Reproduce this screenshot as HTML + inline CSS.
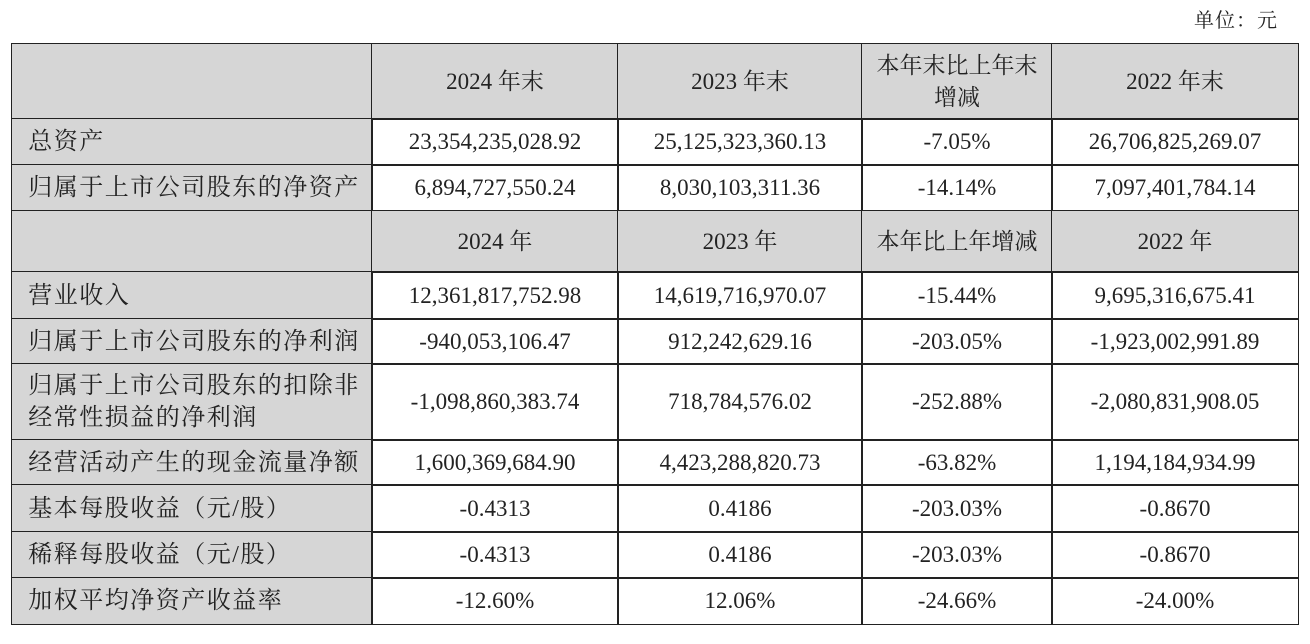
<!DOCTYPE html>
<html><head><meta charset="utf-8"><style>
body{margin:0;width:1310px;height:644px;background:#fff;position:relative;overflow:hidden;font-family:"Liberation Serif","Noto Serif CJK SC",serif;color:#222}
.c{position:absolute;box-sizing:border-box;border:1.5px solid #222;display:flex;align-items:center;justify-content:center;text-align:center;font-size:23px;line-height:32px;margin:-0.75px 0 0 -0.75px}
.g{background:#d6d6d6}
.l{justify-content:flex-start;text-align:left;padding-left:16px;font-size:24px;letter-spacing:1.5px}
#unit{position:absolute;left:1194px;top:4px;font-size:20px;letter-spacing:1px}
</style></head><body>
<div id="unit">单位：元</div>
<div id="t"></div>
<script>
const xs=[12,372,618,862,1052,1298];
const ys=[44,119,165,211,272,319,364,440,485,532,578,624];
const rows=[
 ["", "2024 年末","2023 年末","本年末比上年末<br>增减","2022 年末","h"],
 ["总资产","23,354,235,028.92","25,125,323,360.13","-7.05%","26,706,825,269.07"],
 ["归属于上市公司股东的净资产","6,894,727,550.24","8,030,103,311.36","-14.14%","7,097,401,784.14"],
 ["","2024 年","2023 年","本年比上年增减","2022 年","h"],
 ["营业收入","12,361,817,752.98","14,619,716,970.07","-15.44%","9,695,316,675.41"],
 ["归属于上市公司股东的净利润","-940,053,106.47","912,242,629.16","-203.05%","-1,923,002,991.89"],
 ["归属于上市公司股东的扣除非<br>经常性损益的净利润","-1,098,860,383.74","718,784,576.02","-252.88%","-2,080,831,908.05"],
 ["经营活动产生的现金流量净额","1,600,369,684.90","4,423,288,820.73","-63.82%","1,194,184,934.99"],
 ["基本每股收益（元/股）","-0.4313","0.4186","-203.03%","-0.8670"],
 ["稀释每股收益（元/股）","-0.4313","0.4186","-203.03%","-0.8670"],
 ["加权平均净资产收益率","-12.60%","12.06%","-24.66%","-24.00%"]
];
const t=document.getElementById('t');
rows.forEach((r,i)=>{
 for(let j=0;j<5;j++){
  const d=document.createElement('div');
  
  
  d.className='c'+((j===0||r[5]==='h')?' g':'')+(j===0?' l':'');
  d.style.left=xs[j]+'px';d.style.top=ys[i]+'px';
  d.style.width=(xs[j+1]-xs[j]+1.5)+'px';d.style.height=(ys[i+1]-ys[i]+1.5)+'px';
  d.innerHTML=r[j];
  t.appendChild(d);
 }
});
</script>
</body></html>
